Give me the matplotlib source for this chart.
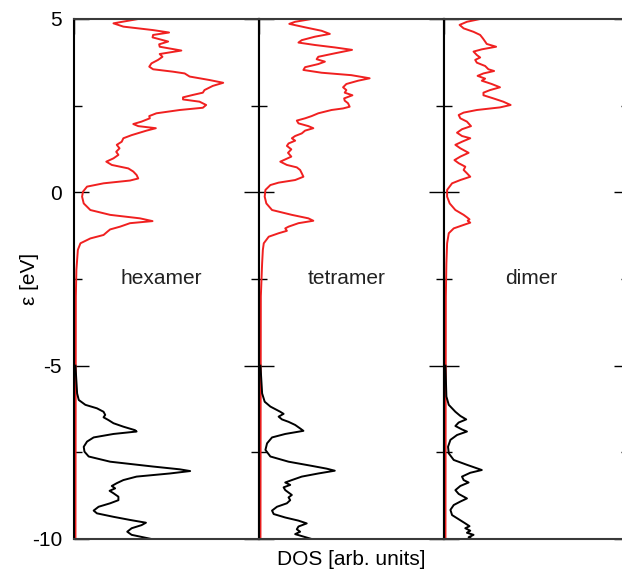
import matplotlib.pyplot as plt
from matplotlib.ticker import MultipleLocator, NullFormatter

plt.rcParams['font.family'] = ['Liberation Sans', 'DejaVu Sans']
plt.rcParams['axes.unicode_minus'] = False

#############################################################################
# DATA: energies (eV) and DOS (arb. units)
#############################################################################

labels = ['hexamer', 'tetramer', 'dimer']

# hexamer, unoccupied (red)
hex_red_e = [5.0, 4.875, 4.78, 4.68, 4.61, 4.54, 4.47, 4.35, 4.27, 4.20, 4.09, 3.99, 3.91, 3.82,
             3.72, 3.625, 3.55, 3.48, 3.43, 3.34, 3.24, 3.16, 3.07, 2.95, 2.875, 2.81, 2.74, 2.68,
             2.615, 2.52, 2.44, 2.375, 2.28, 2.20, 2.135, 2.04, 1.97, 1.91, 1.85, 1.78, 1.65, 1.56,
             1.46, 1.37, 1.27, 1.17, 1.08, 0.98, 0.885, 0.79, 0.69, 0.60, 0.50, 0.40, 0.34, 0.26,
             0.165, 0.02, -0.125, -0.32, -0.51, -0.65, -0.75, -0.83, -0.89, -0.99, -1.07, -1.13,
             -1.23, -1.33, -1.47, -1.66, -1.95, -2.24, -3.0, -10.0]
hex_red_dos = [0.342, 0.207, 0.261, 0.423, 0.510, 0.423, 0.420, 0.505, 0.456, 0.459, 0.577, 0.459,
               0.474, 0.450, 0.414, 0.402, 0.423, 0.532, 0.595, 0.622, 0.730, 0.805, 0.748, 0.703,
               0.694, 0.640, 0.586, 0.586, 0.676, 0.712, 0.694, 0.568, 0.441, 0.402, 0.405, 0.360,
               0.315, 0.342, 0.438, 0.387, 0.306, 0.261, 0.252, 0.225, 0.240, 0.222, 0.234, 0.207,
               0.168, 0.198, 0.288, 0.315, 0.333, 0.342, 0.297, 0.153, 0.063, 0.041, 0.036, 0.045,
               0.081, 0.189, 0.351, 0.420, 0.297, 0.243, 0.189, 0.175, 0.153, 0.081, 0.027, 0.013,
               0.009, 0.005, 0.002, 0.0]

# hexamer, occupied (black)
hex_blk_e = [-5.0, -5.80, -5.99, -6.13, -6.23, -6.33, -6.42, -6.49, -6.57, -6.66, -6.76, -6.86,
             -6.90, -6.97, -7.07, -7.19, -7.34, -7.48, -7.62, -7.77, -7.91, -7.99, -8.04, -8.11,
             -8.20, -8.30, -8.39, -8.47, -8.54, -8.61, -8.68, -8.78, -8.88, -8.97, -9.07, -9.18,
             -9.26, -9.36, -9.45, -9.53, -9.60, -9.69, -9.79, -9.88, -9.95, -10.0]
hex_blk_dos = [0.0, 0.009, 0.018, 0.054, 0.117, 0.153, 0.162, 0.153, 0.180, 0.207, 0.261,
               0.324, 0.333, 0.207, 0.099, 0.063, 0.045, 0.049, 0.072, 0.189, 0.423, 0.568, 0.625,
               0.514, 0.333, 0.261, 0.225, 0.198, 0.216, 0.186, 0.207, 0.234, 0.234, 0.189, 0.126,
               0.099, 0.117, 0.207, 0.297, 0.384, 0.360, 0.306, 0.282, 0.306, 0.369, 0.414]

# tetramer, unoccupied (red)
tet_red_e = [5.0, 4.92, 4.86, 4.76, 4.66, 4.57, 4.49, 4.39, 4.32, 4.25, 4.18, 4.11, 4.01, 3.91,
             3.84, 3.77, 3.70, 3.61, 3.53, 3.45, 3.38, 3.29, 3.22, 3.125, 3.03, 2.95, 2.875, 2.80,
             2.71, 2.645, 2.57, 2.47, 2.42, 2.375, 2.28, 2.20, 2.135, 2.07, 1.99, 1.91, 1.85, 1.78,
             1.70, 1.625, 1.56, 1.49, 1.41, 1.34, 1.24, 1.14, 1.03, 0.95, 0.885, 0.79, 0.72, 0.645,
             0.55, 0.45, 0.355, 0.28, 0.21, 0.07, -0.125, -0.32, -0.51, -0.65, -0.75, -0.82, -0.89,
             -0.99, -1.04, -1.11, -1.18, -1.28, -1.47, -1.66, -2.05, -3.0, -10.0]
tet_red_dos = [0.279, 0.189, 0.157, 0.243, 0.333, 0.378, 0.297, 0.225, 0.207, 0.297, 0.405, 0.499,
               0.405, 0.315, 0.306, 0.351, 0.315, 0.243, 0.234, 0.333, 0.495, 0.595, 0.532, 0.468,
               0.450, 0.468, 0.459, 0.501, 0.456, 0.459, 0.477, 0.486, 0.450, 0.387, 0.315, 0.279,
               0.243, 0.198, 0.207, 0.261, 0.288, 0.243, 0.225, 0.189, 0.171, 0.189, 0.153, 0.144,
               0.168, 0.150, 0.168, 0.135, 0.108, 0.144, 0.198, 0.216, 0.225, 0.234, 0.189, 0.099,
               0.054, 0.027, 0.023, 0.032, 0.063, 0.171, 0.261, 0.288, 0.207, 0.153, 0.135, 0.144,
               0.099, 0.045, 0.018, 0.013, 0.009, 0.002, 0.0]

# tetramer, occupied (black)
tet_blk_e = [-5.0, -5.80, -6.04, -6.18, -6.33, -6.39, -6.47, -6.55, -6.62, -6.71, -6.81, -6.88,
             -6.97, -7.07, -7.24, -7.43, -7.62, -7.77, -7.89, -7.97, -8.03, -8.11, -8.20, -8.30,
             -8.37, -8.44, -8.51, -8.59, -8.66, -8.73, -8.80, -8.88, -8.97, -9.07, -9.18, -9.28,
             -9.38, -9.47, -9.55, -9.64, -9.72, -9.79, -9.86, -9.93, -10.0]
tet_blk_dos = [0.0, 0.009, 0.023, 0.054, 0.108, 0.126, 0.099, 0.117, 0.153, 0.189, 0.216,
               0.234, 0.135, 0.063, 0.036, 0.027, 0.054, 0.153, 0.279, 0.360, 0.405, 0.315, 0.225,
               0.171, 0.135, 0.162, 0.126, 0.135, 0.153, 0.171, 0.153, 0.162, 0.144, 0.090, 0.063,
               0.072, 0.135, 0.207, 0.252, 0.207, 0.198, 0.216, 0.189, 0.234, 0.279]

# dimer, unoccupied (red)
dim_red_e = [5.0, 4.92, 4.83, 4.73, 4.63, 4.54, 4.44, 4.35, 4.28, 4.20, 4.125, 4.06, 3.96, 3.89,
             3.82, 3.74, 3.645, 3.55, 3.50, 3.43, 3.36, 3.28, 3.22, 3.125, 3.03, 2.95, 2.875, 2.80,
             2.71, 2.615, 2.52, 2.45, 2.375, 2.30, 2.23, 2.135, 2.04, 1.91, 1.82, 1.72, 1.625, 1.56,
             1.46, 1.37, 1.27, 1.14, 1.03, 0.93, 0.84, 0.74, 0.645, 0.55, 0.45, 0.355, 0.26, 0.07,
             -0.125, -0.32, -0.51, -0.65, -0.72, -0.78, -0.82, -0.875, -0.94, -1.04, -1.18, -1.47,
             -2.05, -3.0, -10.0]
dim_red_dos = [0.189, 0.117, 0.077, 0.099, 0.153, 0.189, 0.204, 0.216, 0.225, 0.276, 0.198, 0.153,
               0.171, 0.189, 0.162, 0.171, 0.216, 0.234, 0.265, 0.207, 0.175, 0.216, 0.198, 0.252,
               0.297, 0.243, 0.207, 0.207, 0.261, 0.315, 0.355, 0.297, 0.171, 0.099, 0.072, 0.081,
               0.117, 0.139, 0.090, 0.063, 0.090, 0.135, 0.090, 0.054, 0.081, 0.126, 0.081, 0.049,
               0.072, 0.108, 0.099, 0.117, 0.135, 0.081, 0.036, 0.009, 0.009, 0.023, 0.054, 0.099,
               0.117, 0.131, 0.121, 0.135, 0.099, 0.045, 0.018, 0.009, 0.005, 0.002, 0.0]

# dimer, occupied (black)
dim_blk_e = [-5.0, -5.89, -6.13, -6.33, -6.45, -6.55, -6.64, -6.74, -6.84, -6.90, -7.0, -7.14,
             -7.34, -7.53, -7.72, -7.86, -7.96, -8.01, -8.09, -8.20, -8.30, -8.37, -8.47, -8.59,
             -8.70, -8.83, -8.92, -9.02, -9.16, -9.31, -9.43, -9.55, -9.63, -9.69, -9.76, -9.82,
             -9.88, -9.95, -10.0]
dim_blk_dos = [0.0, 0.005, 0.018, 0.054, 0.081, 0.113, 0.072, 0.054, 0.090, 0.117, 0.063,
               0.027, 0.014, 0.018, 0.045, 0.117, 0.171, 0.198, 0.135, 0.090, 0.099, 0.126, 0.081,
               0.054, 0.072, 0.117, 0.081, 0.045, 0.027, 0.036, 0.072, 0.108, 0.131, 0.108, 0.135,
               0.117, 0.153, 0.126, 0.144]

red_curves = [(hex_red_e, hex_red_dos), (tet_red_e, tet_red_dos), (dim_red_e, dim_red_dos)]
black_curves = [(hex_blk_e, hex_blk_dos), (tet_blk_e, tet_blk_dos), (dim_blk_e, dim_blk_dos)]

#############################################################################
# PLOTTING
#############################################################################
W, H = 622, 569
fig = plt.figure(figsize=(W / 100, H / 100), dpi=100)

left, top, bottom, pw = 74, 19, 539, 185
px2pt = 72 / 100

axes = []
for i in range(3):
    ax = fig.add_axes([(left + i * pw) / W, 1 - bottom / H, pw / W, (bottom - top) / H])
    axes.append(ax)

    e, d = red_curves[i]
    ax.plot(d, e, color='#f02020', lw=1.4, solid_joinstyle='round')
    e, d = black_curves[i]
    ax.plot(d, e, color='black', lw=1.4, solid_joinstyle='round')

    ax.set_xlim(-0.008, 1.0)
    ax.set_ylim(-10, 5)
    ax.yaxis.set_major_locator(MultipleLocator(5))
    ax.yaxis.set_minor_locator(MultipleLocator(2.5))
    ax.set_xticks([-0.008, 1.0])
    ax.xaxis.set_major_formatter(NullFormatter())
    ax.tick_params(axis='both', which='major', direction='in', length=15 * px2pt, width=1.0,
                   left=True, right=True, top=True, bottom=True, color='black')
    ax.tick_params(axis='y', which='minor', direction='in', length=8 * px2pt, width=1.0,
                   left=True, right=True, color='black')
    if i == 0:
        ax.tick_params(axis='y', labelsize=15, pad=12 * px2pt)
    else:
        ax.yaxis.set_major_formatter(NullFormatter())
    for s in ['left', 'right']:
        ax.spines[s].set_linewidth(1.5)
        ax.spines[s].set_color('black')
    for s in ['top', 'bottom']:
        ax.spines[s].set_linewidth(1.5)
        ax.spines[s].set_color('#3a3a3a')

    ax.text(0.47, -2.5, labels[i], ha='center', va='center', fontsize=15, color='#222222')

fig.text(30 / W, 1 - 279 / H, 'ε [eV]', rotation=90, ha='center', va='center', fontsize=15)
fig.text(351 / W, 1 - 565 / H, 'DOS [arb. units]', ha='center', va='baseline', fontsize=15)

fig.savefig('out.png', dpi=100)
